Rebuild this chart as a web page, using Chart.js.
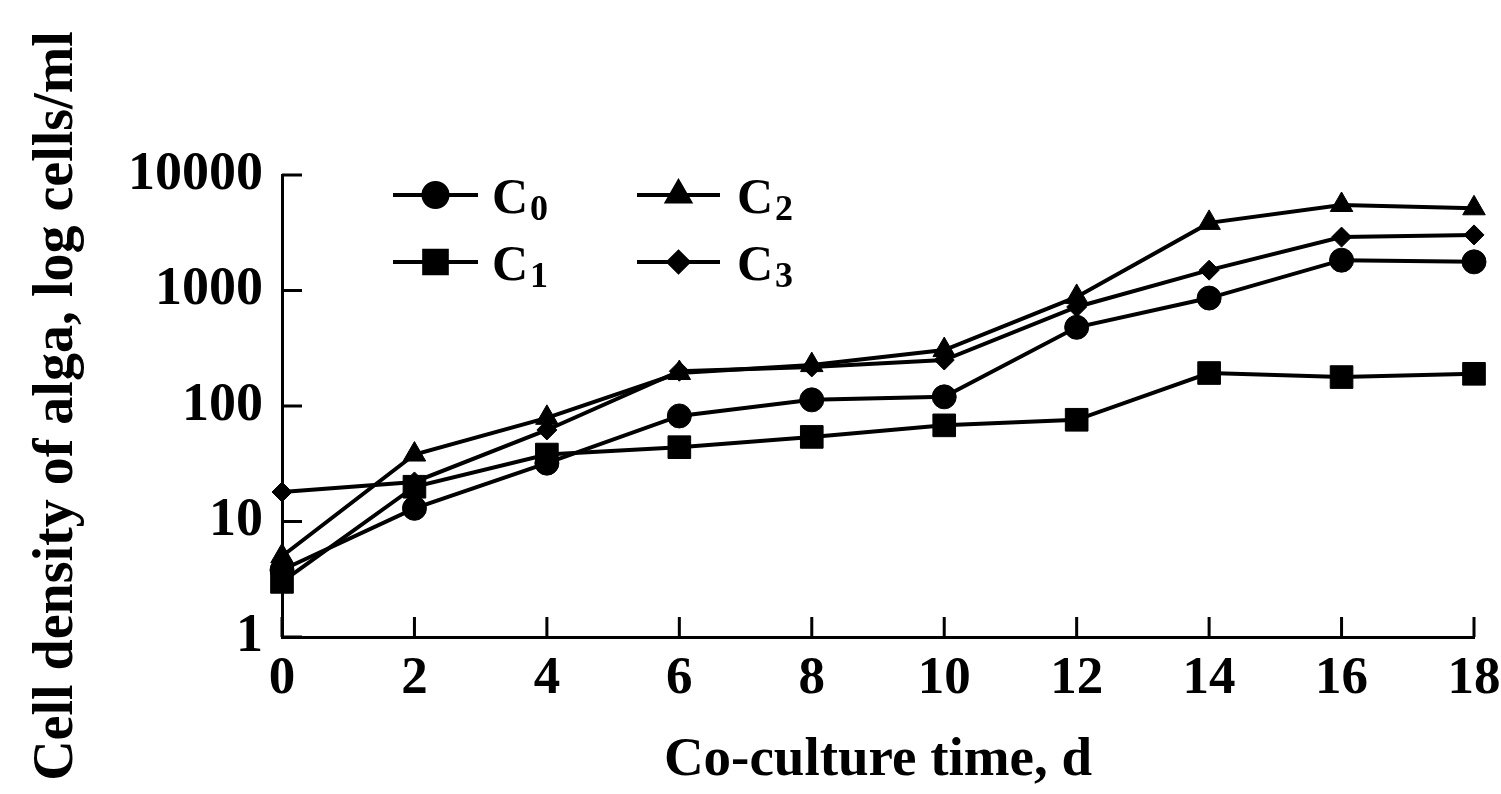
<!DOCTYPE html>
<html>
<head>
<meta charset="utf-8">
<script src="https://cdn.jsdelivr.net/npm/chart.js@4/dist/chart.umd.min.js"></script>
<style>
  body { margin: 0; background: #fff; }
  canvas { display: block; }
</style>
</head>
<body>
<canvas id="algaChart" width="1501" height="794"></canvas>
<script>
// Co-culture days
const days = [0, 2, 4, 6, 8, 10, 12, 14, 16, 18];

// Cell density (cells/ml)
const c0Values = [3.8, 13, 32, 82, 113, 120, 480, 860, 1830, 1770];
const c1Values = [3, 20, 38, 44, 54, 68, 76, 193, 178, 190];
const c2Values = [5, 38, 79, 193, 226, 305, 880, 3850, 5500, 5150];
const c3Values = [18, 22, 62, 200, 218, 250, 720, 1500, 2900, 3030];

const seriesNames = ['C0', 'C1', 'C2', 'C3'];
const yTicks = [1, 10, 100, 1000, 10000];

const serif = '"Liberation Serif", "Times New Roman", serif';

function makeSeries(name, values, style, radius) {
    return {
        label: name,
        data: days.map((d, i) => ({ x: d, y: values[i] })),
        borderColor: '#000',
        backgroundColor: '#000',
        borderWidth: 4,
        pointStyle: style,
        pointRadius: radius,
        pointBorderWidth: 1,
        pointBackgroundColor: '#000',
        fill: false,
        tension: 0,
        clip: false
    };
}

// Inward tick marks + the 2x2 legend with subscripts
const extrasPlugin = {
    id: 'extras',
    afterDraw(chart) {
        const ctx = chart.ctx;
        const xs = chart.scales.x;
        const ys = chart.scales.y;
        const area = chart.chartArea;
        ctx.save();
        ctx.strokeStyle = '#000';
        ctx.lineWidth = 3;
        ctx.beginPath();
        yTicks.forEach(v => {
            const py = ys.getPixelForValue(v);
            ctx.moveTo(area.left, py);
            ctx.lineTo(area.left + 20, py);
        });
        days.forEach(d => {
            const px = xs.getPixelForValue(d);
            ctx.moveTo(px, area.bottom);
            ctx.lineTo(px, area.bottom - 20);
        });
        ctx.stroke();

        // legend: two columns, two rows
        const cols = [{ x0: 393, x1: 478, tx: 492 }, { x0: 637, x1: 720, tx: 737 }];
        const rows = [195, 262];
        const order = [[0, 0], [1, 0], [0, 1], [1, 1]]; // [row, col] per dataset
        chart.data.datasets.forEach((ds, i) => {
            const [r, c] = order[i];
            const col = cols[c];
            const y = rows[r];
            ctx.lineWidth = 4;
            ctx.beginPath();
            ctx.moveTo(col.x0, y);
            ctx.lineTo(col.x1, y);
            ctx.stroke();
            Chart.helpers.drawPoint(ctx, {
                pointStyle: ds.pointStyle,
                radius: ds.pointRadius,
                borderWidth: 1
            }, (col.x0 + col.x1) / 2, y);
            ctx.fillStyle = '#000';
            ctx.textBaseline = 'alphabetic';
            ctx.textAlign = 'left';
            ctx.font = 'bold 50px ' + serif;
            ctx.fillText('C', col.tx, y + 18);
            const w = ctx.measureText('C').width;
            ctx.font = 'bold 36px ' + serif;
            ctx.fillText(ds.label.slice(1), col.tx + w + 2, y + 25);
        });
        ctx.restore();
    }
};

const ctx = document.getElementById('algaChart').getContext('2d');
const algaChart = new Chart(ctx, {
    type: 'line',
    data: {
        datasets: [
            makeSeries(seriesNames[0], c0Values, 'circle', 12),
            makeSeries(seriesNames[1], c1Values, 'rect', 16),
            makeSeries(seriesNames[2], c2Values, 'triangle', 13),
            makeSeries(seriesNames[3], c3Values, 'rectRot', 10)
        ]
    },
    options: {
        responsive: false,
        animation: false,
        layout: { padding: { left: 20, right: 27, top: 175, bottom: 0 } },
        plugins: {
            legend: { display: false },
            tooltip: { enabled: false }
        },
        scales: {
            x: {
                type: 'linear',
                min: 0,
                max: 18,
                ticks: {
                    stepSize: 2,
                    padding: 11,
                    color: '#000',
                    font: { family: serif, size: 53, weight: 'bold' }
                },
                grid: { display: true, drawOnChartArea: false, drawTicks: false },
                border: { display: true, color: '#000', width: 3 },
                title: {
                    display: true,
                    text: 'Co-culture time, d',
                    color: '#000',
                    padding: { top: 0, bottom: 0 },
                    font: { family: serif, size: 55, weight: 'bold' }
                },
                afterFit(scale) {
                    scale.height = 157;
                    scale.paddingLeft = 0;
                    scale.paddingRight = 0;
                }
            },
            y: {
                type: 'logarithmic',
                min: 1,
                max: 10000,
                afterBuildTicks(scale) {
                    scale.ticks = yTicks.map(v => ({ value: v }));
                },
                ticks: {
                    padding: 19,
                    color: '#000',
                    font: { family: serif, size: 54, weight: 'bold' },
                    callback: v => String(v)
                },
                grid: { display: true, drawOnChartArea: false, drawTicks: false },
                border: { display: true, color: '#000', width: 3 },
                title: {
                    display: true,
                    text: 'Cell density of alga, log cells/ml',
                    color: '#000',
                    padding: { top: 4, bottom: 0 },
                    font: { family: serif, size: 56, weight: 'bold' }
                },
                afterFit(scale) {
                    scale.width = 262;
                    scale.paddingTop = 0;
                    scale.paddingBottom = 0;
                }
            }
        }
    },
    plugins: [extrasPlugin]
});
</script>
</body>
</html>
